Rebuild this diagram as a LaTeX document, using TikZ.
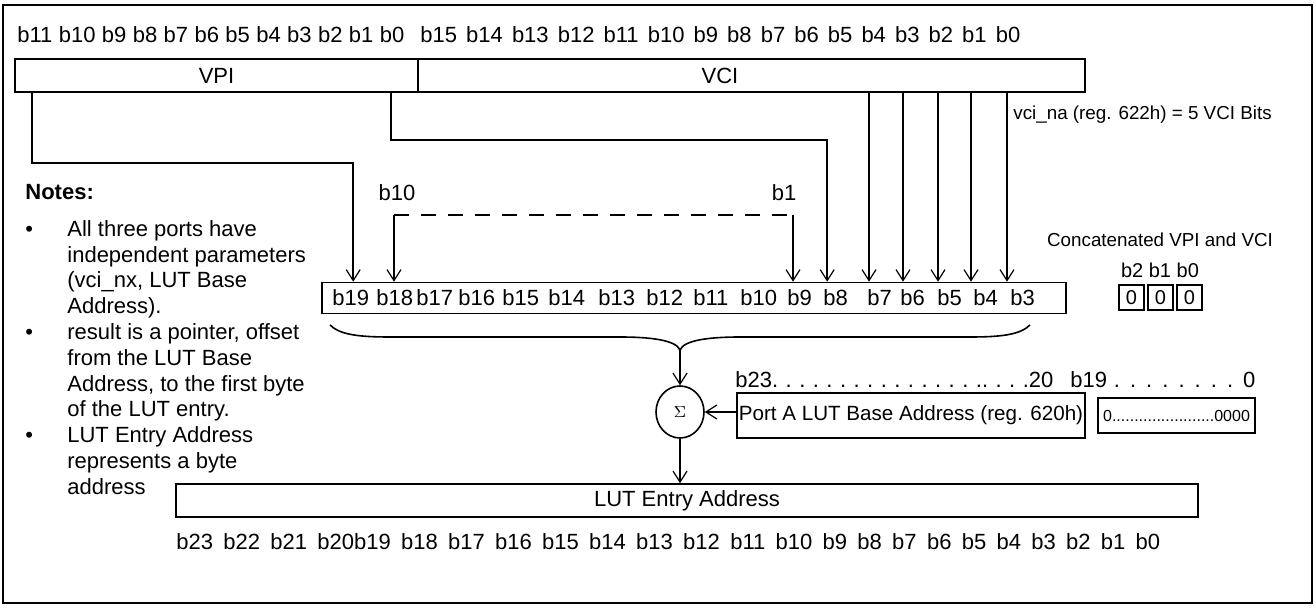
\documentclass[tikz,border=0pt]{standalone}
\usepackage{fontspec}
\setmainfont{Liberation Sans}
\usetikzlibrary{positioning,arrows.meta,shapes.geometric}
\newcommand{\notebul}{\makebox[21pt][l]{\textbullet}}
\newcommand{\noteind}{\hspace*{21pt}}

\begin{document}
\begin{tikzpicture}[
  x=0.5pt,y=-0.5pt,
  box/.style={draw,line width=0.8pt,inner sep=1pt},
  arr/.style={line width=0.8pt,-{Straight Barb[length=5.5pt,width=7pt,line width=0.6pt]}},
  bit/.style={font=\fontsize{11}{13}\selectfont,inner sep=0pt},
  smalltxt/.style={font=\fontsize{9.4}{11}\selectfont,inner sep=0pt},
  zero/.style={box,minimum width=12.5pt,minimum height=12.5pt,inner sep=0pt,font=\fontsize{10}{12}\selectfont}
]
\useasboundingbox (0,0) rectangle (1316,608);
\draw[line width=1pt] (3,5) rectangle (1312,603);

% VPI / VCI header
\node[bit,anchor=west] (vpibits) at (17,35) {\makebox[193.5pt][s]{b11 b10 b9 b8 b7 b6 b5 b4 b3 b2 b1 b0}};
\node[bit,anchor=west] (vcibits) at (420,35) {\makebox[300pt][s]{b15 b14 b13 b12 b11 b10 b9 b8 b7 b6 b5 b4 b3 b2 b1 b0}};
\node[box,minimum width=201.5pt,minimum height=16.5pt,font=\fontsize{11}{13}\selectfont] (vpi) at (216.5,75.5) {VPI};
\node[box,minimum width=333.5pt,minimum height=16.5pt] (vci) at (751.5,75.5) {};
\node[bit] (vcitext) at (720,75.5) {VCI};
\node[smalltxt,anchor=west] (vcina) at (1013,115) {vci\_na (reg. 622h) = 5 VCI Bits};

% concatenated VPI and VCI
\node[box,minimum width=372pt,minimum height=15.5pt] (cat) at (694,298) {};
\foreach \bx/\bn in {332/19,376/18,416/17,458/16,502/15,548/14,598/13,646/12,693/11,740/10,787/9,823/8,867/7,900/6,937/5,973/4,1010/3}
  \node[bit,anchor=west] (c\bn) at (\bx,298) {b\bn};

\draw[arr] ([xshift=9pt]vpi.south west) -- ++(0,70) -| ([xshift=16pt]cat.north west);
\draw[arr] ([xshift=-14pt]vpi.south east) -- ++(0,47) -| ([xshift=253pt]cat.north west);
\foreach \xx [count=\i] in {869,903,938,971,1007} {
  \coordinate (v\i) at (\xx,0);
  \draw[arr] (vci.south -| v\i) -- (cat.north -| v\i);
}

\node[bit] (b10lab) at (397,193) {b10};
\node[bit] (b1lab) at (784,193) {b1};
\coordinate (dl) at (394,215);
\coordinate (dr) at (793,215);
\draw[line width=0.8pt,dash pattern=on 7.5pt off 6pt] (dl) -- (dr);
\draw[arr] (dl) -- (cat.north -| dl);
\draw[arr] (dr) -- (cat.north -| dr);

\node[smalltxt] (cattitle) at (1160,240) {Concatenated VPI and VCI};
\node[bit,font=\fontsize{10}{12}\selectfont] (lowbits) at (1160,270) {b2 b1 b0};
\node[zero] (z2) at (1131.5,297.5) {0};
\node[zero] (z1) at (1160.5,297.5) {0};
\node[zero] (z0) at (1189.5,297.5) {0};

% brace and adder
\draw[line width=0.8pt] (330,325) .. controls (340,335) and (360,337) .. (390,337) -- (620,337)
  .. controls (650,337) and (676,340) .. (680,350) .. controls (684,340) and (710,337) .. (740,337)
  -- (970,337) .. controls (1000,337) and (1020,335) .. (1030,325);
\coordinate (brtip) at (680,350);
\node[draw,ellipse,line width=0.8pt,minimum width=24pt,minimum height=26pt,inner sep=0pt] (sigma) at (680,412) {\footnotesize$\Sigma$};
\draw[arr] (brtip) -- (sigma.north);

\node[bit,anchor=west] (hibits) at (735,380) {\makebox[155pt][s]{b23. . . . . . . . . . . . . . . .. . . .20}};
\node[bit,anchor=west] (lobits) at (1070,380) {\makebox[92.5pt][s]{b19 . . . . . . . . 0}};
\node[box,minimum width=174pt,minimum height=22.5pt,font=\fontsize{10.3}{12}\selectfont] (porta) at (911,415.5) {Port A LUT Base Address (reg. 620h)};
\node[box,minimum width=78.5pt,minimum height=17.5pt,font=\fontsize{8}{9}\selectfont] (zeros) at (1176.5,415.5) {0.......................0000};
\draw[arr] (porta.west |- sigma.east) -- (sigma.east);

% result
\node[box,minimum width=511pt,minimum height=16.5pt,font=\fontsize{11}{13}\selectfont] (lut) at (687,500.5) {LUT Entry Address};
\draw[arr] (sigma.south) -- (lut.north -| sigma.south);
\node[bit,anchor=west] (lutbits) at (176,542) {\makebox[492pt][s]{b23 b22 b21 b20b19 b18 b17 b16 b15 b14 b13 b12 b11 b10 b9 b8 b7 b6 b5 b4 b3 b2 b1 b0}};

% notes
\node[anchor=west,inner sep=0pt,font=\fontsize{11}{13}\selectfont\bfseries] (notehead) at (25,192) {Notes:};
\node[anchor=north west,inner sep=0pt,align=left,font=\fontsize{11}{12.9}\selectfont] (notes) at (25,220) {%
\notebul All three ports have\\
\noteind independent parameters\\
\noteind (vci\_nx, LUT Base\\
\noteind Address).\\
\notebul result is a pointer, offset\\
\noteind from the LUT Base\\
\noteind Address, to the first byte\\
\noteind of the LUT entry.\\
\notebul LUT Entry Address\\
\noteind represents a byte\\
\noteind address};
\end{tikzpicture}
\end{document}
